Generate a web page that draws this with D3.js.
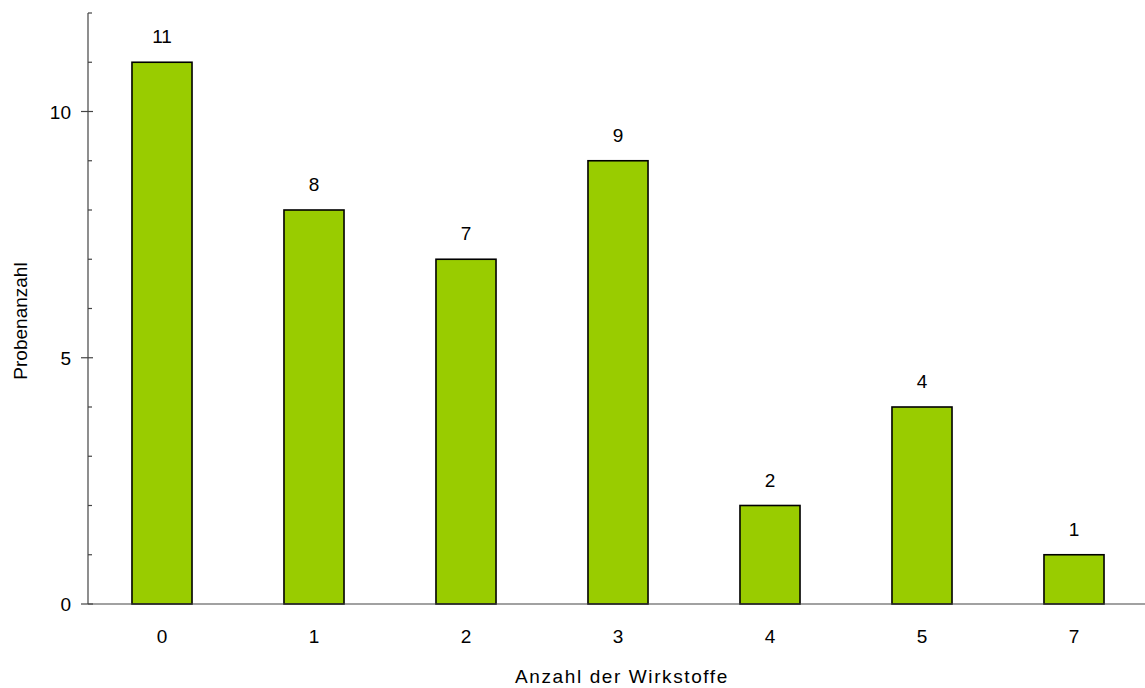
<!DOCTYPE html>
<html><head><meta charset="utf-8">
<script src="https://cdn.jsdelivr.net/npm/d3@7/dist/d3.min.js"></script>
<style>body{margin:0;background:#fff}svg{display:block}text{font-family:"Liberation Sans",Arial,sans-serif;fill:#000}</style>
</head><body>
<script>
const categories = ["0","1","2","3","4","5","7"];
const values = [11, 8, 7, 9, 2, 4, 1];
const majorTicks = [0, 5, 10];
const minorTicks = [1,2,3,4,6,7,8,9,11,12];
const xTitle = "Anzahl der Wirkstoffe";
const yTitle = "Probenanzahl";

const W = 1145, H = 688;
const svg = d3.select("body").append("svg").attr("width", W).attr("height", H);
const x = d3.scaleBand().domain(categories).range([86, 1150]).paddingInner(0.605).paddingOuter(0.3025);
const y = d3.scaleLinear().domain([0, 12]).range([604, 13]);
const axisColor = "#444";

// bars
svg.selectAll("rect.bar").data(values).join("rect")
  .attr("x", (d,i) => x(categories[i]))
  .attr("y", d => y(d))
  .attr("width", x.bandwidth())
  .attr("height", d => y(0) - y(d))
  .attr("fill", "#99CC00").attr("stroke", "#000").attr("stroke-width", 1.6);

// value labels
svg.selectAll("text.val").data(values).join("text")
  .attr("x", (d,i) => x(categories[i]) + x.bandwidth()/2)
  .attr("y", d => y(d) - 19)
  .attr("text-anchor", "middle").attr("font-size", 19).text(d => d);

// y axis
const ya = svg.append("g");
ya.append("line").attr("x1", 88).attr("x2", 88).attr("y1", y(12)).attr("y2", y(0)).attr("stroke", axisColor).attr("stroke-width", 1.2);
ya.selectAll("line.maj").data(majorTicks).join("line")
  .attr("x1", 81).attr("x2", 93).attr("y1", d => y(d)).attr("y2", d => y(d)).attr("stroke", axisColor).attr("stroke-width", 1.2);
ya.selectAll("line.min").data(minorTicks).join("line")
  .attr("x1", 88).attr("x2", 92).attr("y1", d => y(d)).attr("y2", d => y(d)).attr("stroke", axisColor).attr("stroke-width", 1.2);
ya.selectAll("text").data(majorTicks).join("text")
  .attr("x", 71).attr("y", d => y(d) + 7).attr("text-anchor", "end").attr("font-size", 19).text(d => d);

// x axis
svg.append("line").attr("x1", 88).attr("x2", W).attr("y1", y(0)).attr("y2", y(0)).attr("stroke", axisColor).attr("stroke-width", 1.2);
svg.selectAll("text.xt").data(categories).join("text")
  .attr("x", d => x(d) + x.bandwidth()/2).attr("y", 643)
  .attr("text-anchor", "middle").attr("font-size", 19).text(d => d);

svg.append("text").attr("x", 622).attr("y", 683).attr("text-anchor", "middle").attr("font-size", 19)
  .attr("letter-spacing", "1.6px").text(xTitle);
svg.append("text").attr("transform", "translate(27,321) rotate(-90)").attr("text-anchor", "middle").attr("font-size", 19).text(yTitle);
</script>
</body></html>
